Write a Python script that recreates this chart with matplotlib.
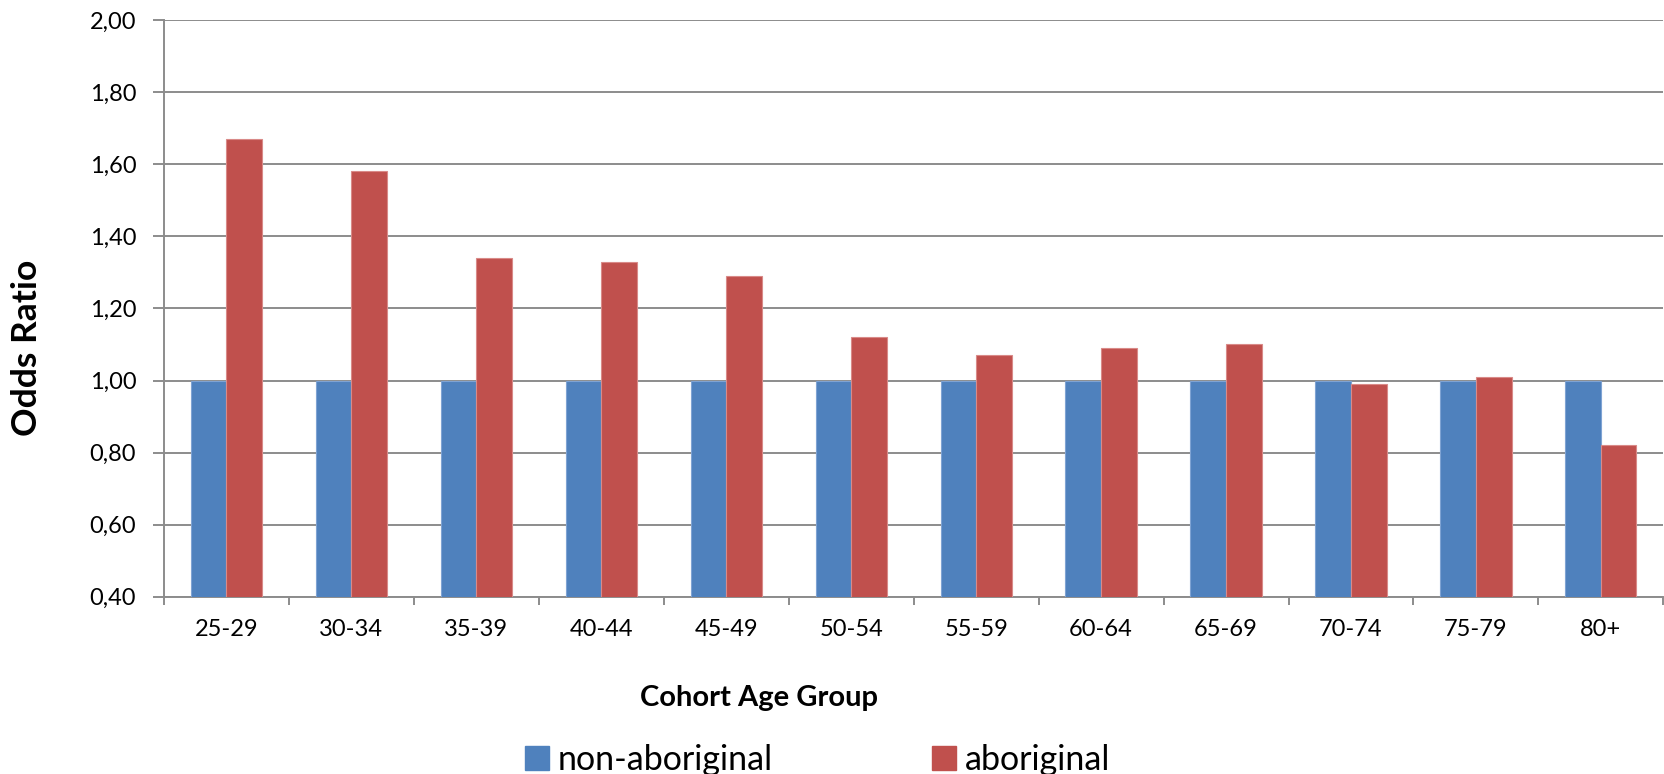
import matplotlib
matplotlib.use("Agg")
import matplotlib.pyplot as plt
from matplotlib.patches import Patch
from matplotlib.ticker import FixedLocator, FuncFormatter
import numpy as np

age_groups = ["25-29", "30-34", "35-39", "40-44", "45-49", "50-54",
              "55-59", "60-64", "65-69", "70-74", "75-79", "80+"]
non_aboriginal = [1.00, 1.00, 1.00, 1.00, 1.00, 1.00,
                  1.00, 1.00, 1.00, 1.00, 1.00, 1.00]
aboriginal = [1.67, 1.58, 1.34, 1.33, 1.29, 1.12,
              1.07, 1.09, 1.10, 0.99, 1.01, 0.82]

blue = "#4f81bd"
red = "#c0504d"
grid_gray = "#8c8c8c"

plt.rcParams["font.family"] = ["Lato", "DejaVu Sans"]

fig = plt.figure(figsize=(16.65, 7.74), dpi=100, facecolor="white")
ax = fig.add_axes([0.0985, 0.229, 0.9005, 0.745])

x = np.arange(len(age_groups))
w = 0.285
ax.bar(x - w / 2, non_aboriginal, width=w, color=blue,
       edgecolor="#7fa3d3", linewidth=0.8, zorder=3)
ax.bar(x + w / 2, aboriginal, width=w, color=red,
       edgecolor="#d98a88", linewidth=0.8, zorder=3)

ax.set_xlim(-0.5, len(age_groups) - 0.5)
ax.set_ylim(0.4, 2.0)
ax.set_yticks(np.arange(0.4, 2.01, 0.2))
ax.yaxis.set_major_formatter(FuncFormatter(lambda v, _: f"{v:.2f}".replace(".", ",")))
ax.grid(axis="y", color=grid_gray, linewidth=1.4, zorder=0)

# category labels at centres, tick marks at the boundaries
ax.set_xticks(x)
ax.set_xticklabels(age_groups)
ax.xaxis.set_minor_locator(FixedLocator(np.arange(-0.5, len(age_groups), 1.0)))
ax.tick_params(axis="x", which="major", length=0, pad=16, labelsize=17)
ax.tick_params(axis="x", which="minor", length=6, width=1.4, color=grid_gray)
ax.tick_params(axis="y", length=8, width=1.4, color=grid_gray, pad=12, labelsize=17)

for side in ("top", "right"):
    ax.spines[side].set_visible(False)
for side in ("left", "bottom"):
    ax.spines[side].set_color(grid_gray)
    ax.spines[side].set_linewidth(1.4)

fig.text(0.0165, 0.55, "Odds Ratio", fontsize=25.5, fontweight="bold",
         rotation=90, ha="center", va="center")
fig.text(0.456, 0.098, "Cohort Age Group", fontsize=21, fontweight="bold",
         ha="center", va="center")

handles = [Patch(facecolor=blue, edgecolor=blue),
           Patch(facecolor=red, edgecolor=red)]
fig.legend(handles, ["non-aboriginal", "aboriginal"], loc="center",
           bbox_to_anchor=(0.491, 0.018), ncol=2, frameon=False, fontsize=24.5,
           handlelength=0.7, handleheight=0.7, handletextpad=0.25,
           columnspacing=4.7, borderpad=0)

fig.savefig("out.png", dpi=100, facecolor="white")
